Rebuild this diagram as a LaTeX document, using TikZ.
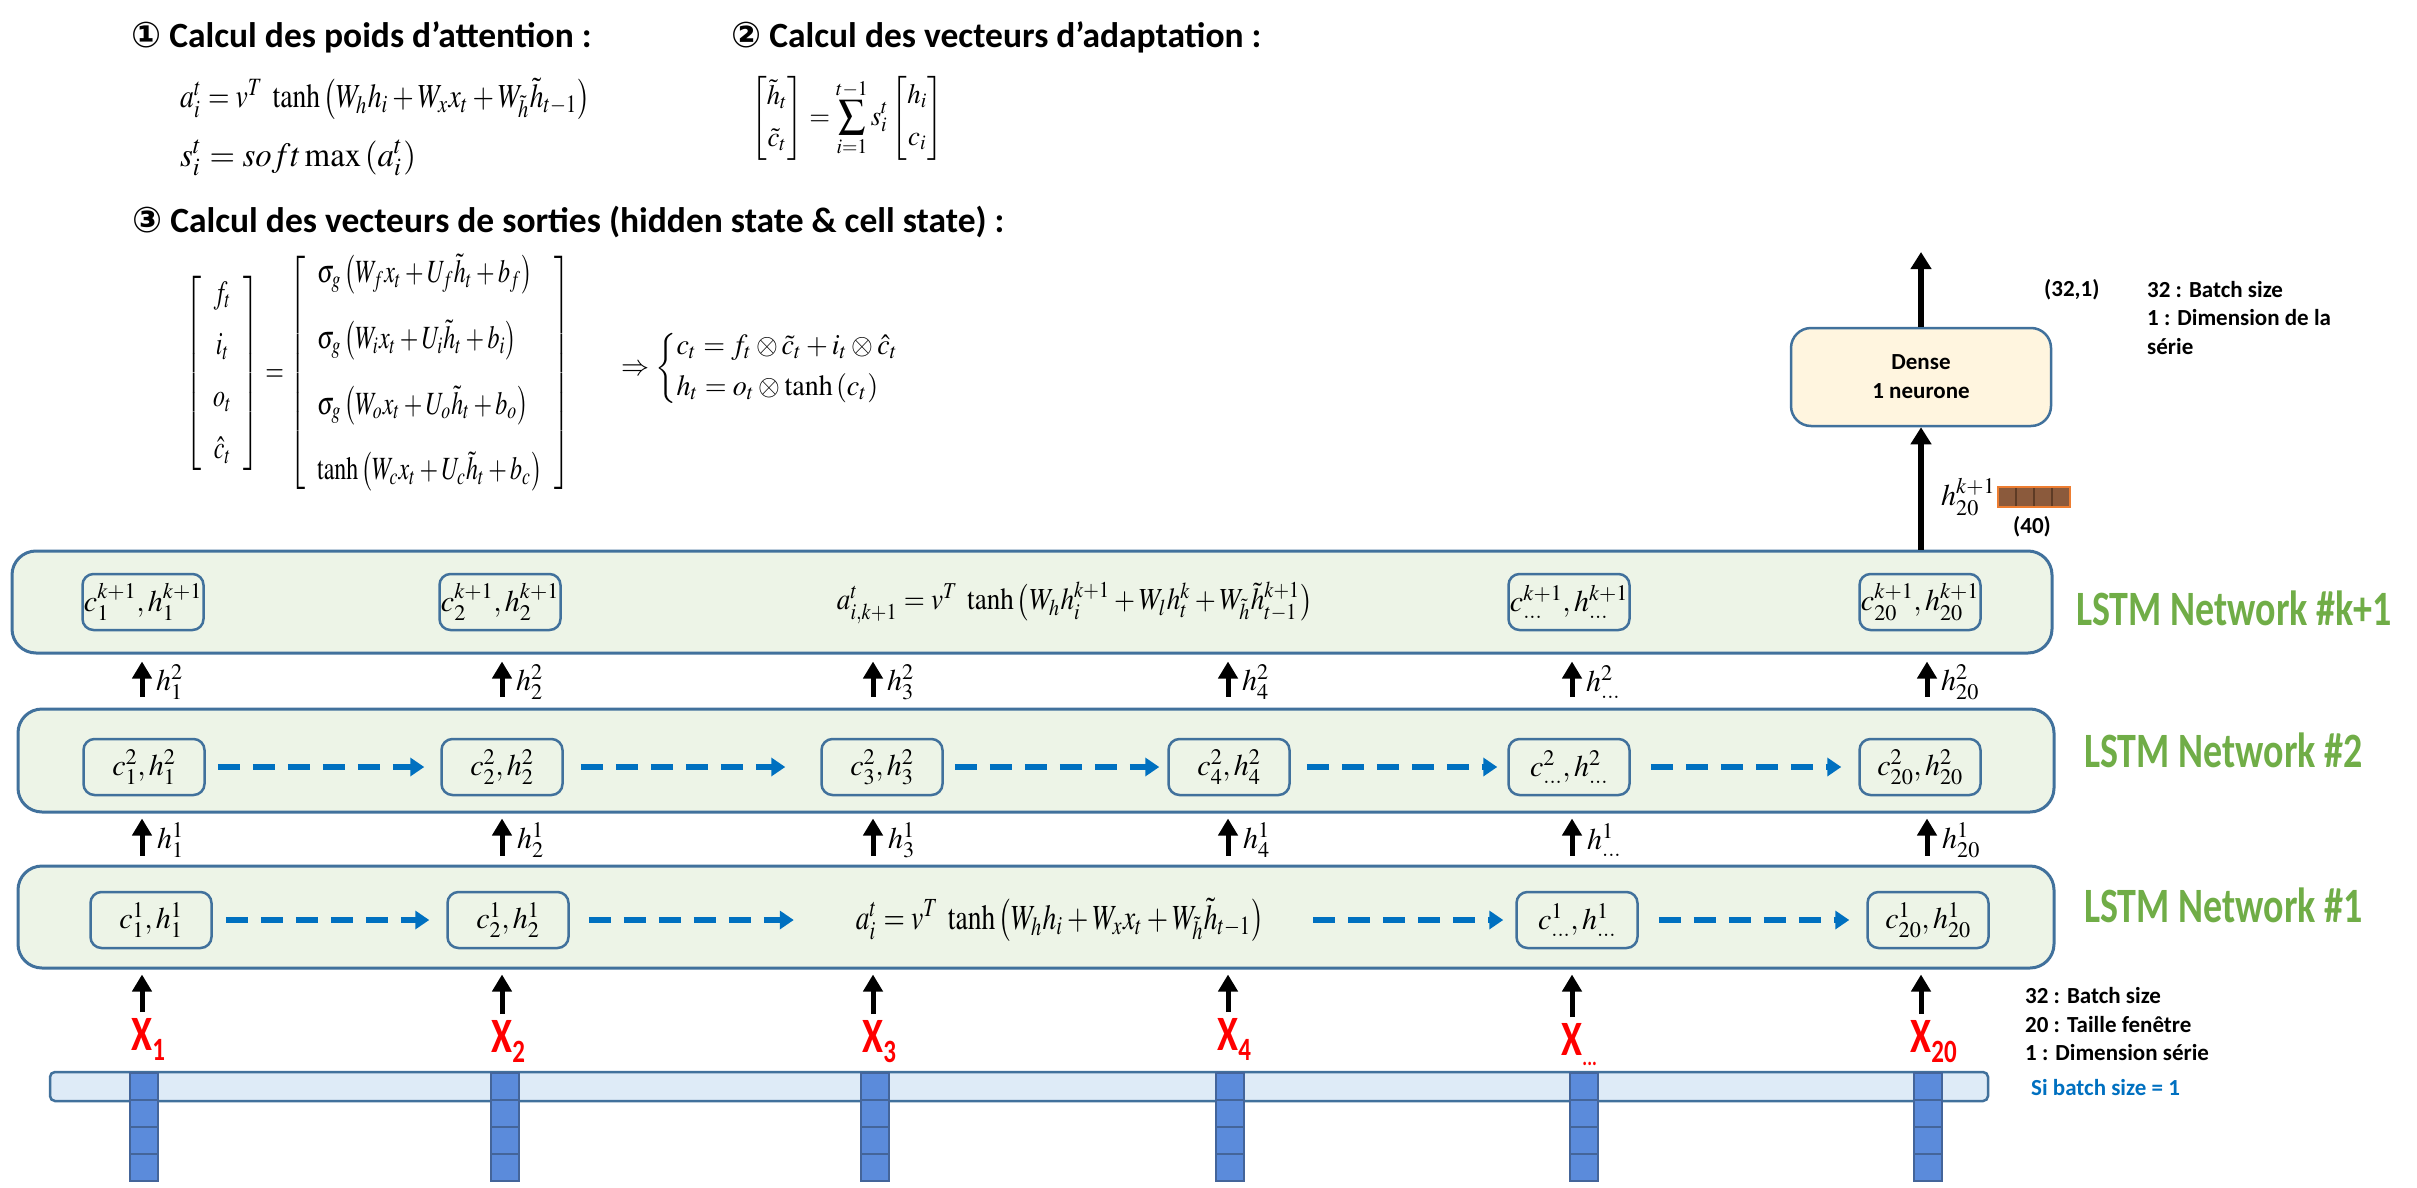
\documentclass[tikz,border=0pt]{standalone}
\usepackage{amsmath}
\usepackage{mathptmx}
\usepackage[no-math]{fontspec}
\setmainfont{Carlito}
\newfontfamily\djv{DejaVu Sans}
\usetikzlibrary{arrows.meta}
\definecolor{bord}{HTML}{41719C}
\definecolor{lgreen}{HTML}{EDF4E7}
\definecolor{dblue}{HTML}{0070C0}
\definecolor{lstmg}{HTML}{70AD47}
\definecolor{xred}{HTML}{FF0000}
\definecolor{barfill}{HTML}{DEEBF7}
\definecolor{colfill}{HTML}{5B8BDB}
\definecolor{coledge}{HTML}{44659A}
\definecolor{densefill}{HTML}{FFF5DF}
\definecolor{brownf}{HTML}{8B5A3C}
\definecolor{browne}{HTML}{ED7D31}
\definecolor{browndiv}{HTML}{5E3B25}
\newcommand\mf{\fontsize{30}{36}\selectfont}
\newcommand\tf{\fontsize{35.5}{42}\selectfont\bfseries}
\newcommand\smallbf{\fontsize{23}{28.5}\selectfont\bfseries}
\newcommand\lstmf{\fontsize{38}{44}\selectfont\bfseries}
\newcommand\xf{\fontsize{38}{44}\selectfont\bfseries}
\newcommand\xs[1]{\rlap{\raisebox{-8pt}{\fontsize{25}{25}\selectfont #1}}}
\newcommand\tallx[1]{\scalebox{1}[1.3]{#1}}
\begin{document}
\begin{tikzpicture}[x=1pt,y=-1pt,
  lstm/.style={draw=bord, line width=3pt, fill=lgreen, rounded corners=24pt, inner sep=0pt},
  cellbox/.style={draw=bord, line width=2.5pt, rounded corners=11pt, minimum width=121pt, minimum height=56pt, inner sep=0pt, font=\mf},
  uparr/.style={-{Triangle[length=17pt,width=19pt]}, line width=5pt},
  bigarr/.style={-{Triangle[length=17pt,width=20pt]}, line width=6.5pt},
  dasharr/.style={-{Triangle[length=14pt,width=18pt]}, line width=5.5pt, draw=dblue, dash pattern=on 22pt off 13pt},
  hlab/.style={anchor=west, inner sep=0pt, font=\mf},
  xlab/.style={anchor=north, inner sep=0pt, font=\xf, text=xred},
  lstmlab/.style={anchor=west, inner sep=0pt, font=\lstmf, text=lstmg},
  title/.style={anchor=west, inner sep=0pt, font=\tf},
  eqn/.style={anchor=west, inner sep=0pt},
  note/.style={anchor=west, inner sep=0pt, font=\smallbf, align=left},
  colst/.style={fill=colfill, draw=coledge, line width=1.5pt},
]
\useasboundingbox (0,0) rectangle (2417,1188);

% ---- top equations ----
\node[title] (t1) at (131,37) {{\djv ①} Calcul des poids d’attention :};
\node[eqn] (e1) at (180,99) {\resizebox*{410pt}{41pt}{$a_i^t = v^T\ \tanh\left(W_h h_i + W_x x_t + W_{\tilde h}\tilde h_{t-1}\right)$}};
\node[eqn] (e1s) at (180,158) {\resizebox*{236pt}{36pt}{$s_i^t = soft\max\left(a_i^t\right)$}};
\node[title] (t2) at (731,37) {{\djv ②} Calcul des vecteurs d’adaptation :};
\node[eqn] (e2) at (751,118) {\resizebox*{192pt}{84pt}{$\displaystyle\begin{bmatrix}\tilde h_t\\[3pt] \tilde c_t\end{bmatrix} = \sum_{i=1}^{t-1} s_i^t\begin{bmatrix}h_i\\[3pt] c_i\end{bmatrix}$}};
\node[title] (t3) at (132,222) {{\djv ③} Calcul des vecteurs de sorties (hidden state \& cell state) :};
\node[eqn] (e3) at (185,373) {\resizebox*{385pt}{237pt}{$\left[\begin{array}{c} f_t\\[4pt] i_t\\[4pt] o_t\\[4pt] \hat c_t\end{array}\right] = \left[\begin{array}{l} \sigma_g\left(W_f x_t + U_f\tilde h_t + b_f\right)\\[8pt] \sigma_g\left(W_i x_t + U_i\tilde h_t + b_i\right)\\[8pt] \sigma_g\left(W_o x_t + U_o\tilde h_t + b_o\right)\\[8pt] \tanh\left(W_c x_t + U_c\tilde h_t + b_c\right)\end{array}\right]$}};
\node[eqn] (e4) at (621,368) {\resizebox*{280pt}{76pt}{$\Rightarrow\left\{\begin{array}{@{}l@{}} c_t = f_t\otimes\tilde c_t + i_t\otimes\hat c_t\\[2pt] h_t = o_t\otimes\tanh\left(c_t\right)\end{array}\right.$}};

% ---- LSTM containers ----
\node[lstm, minimum width=2040pt, minimum height=102pt] (L3) at (1032,602) {};
\node[lstm, minimum width=2036pt, minimum height=103pt] (L2) at (1036,760.5) {};
\node[lstm, minimum width=2036pt, minimum height=102pt] (L1) at (1036,917) {};
\node[lstmlab] (n3) at (2076,608) {\tallx{LSTM Network \#k+1}};
\node[lstmlab] (n2) at (2084,750) {\tallx{LSTM Network \#2}};
\node[lstmlab] (n1) at (2084,905) {\tallx{LSTM Network \#1}};

% row k+1
\node[cellbox] (a1) at (143,602) {$c_1^{k+1},h_1^{k+1}$};
\node[cellbox] (a2) at (500,602) {$c_2^{k+1},h_2^{k+1}$};
\node[inner sep=0pt] (af) at (1075,603) {\resizebox*{476pt}{42pt}{$a_{i,k+1}^t = v^T\ \tanh\left(W_h h_i^{k+1} + W_l h_t^k + W_{\tilde h}\tilde h_{t-1}^{k+1}\right)$}};
\node[cellbox] (a5) at (1569,602) {$c_{\ldots}^{k+1},h_{\ldots}^{k+1}$};
\node[cellbox] (a6) at (1920,602) {$c_{20}^{k+1},h_{20}^{k+1}$};

% row 2
\node[cellbox] (b1) at (144,767) {$c_1^2,h_1^2$};
\node[cellbox] (b2) at (502,767) {$c_2^2,h_2^2$};
\node[cellbox] (b3) at (882,767) {$c_3^2,h_3^2$};
\node[cellbox] (b4) at (1229,767) {$c_4^2,h_4^2$};
\node[cellbox] (b5) at (1569,767) {$c_{\ldots}^2,h_{\ldots}^2$};
\node[cellbox] (b6) at (1920,767) {$c_{20}^2,h_{20}^2$};
\draw[dasharr, shorten <=12pt, shorten >=16pt] (b1.east) -- (b2.west);
\draw[dasharr, shorten <=17pt, shorten >=35pt] (b2.east) -- (b3.west);
\draw[dasharr, shorten <=11pt, shorten >=8pt] (b3.east) -- (b4.west);
\draw[dasharr, shorten <=16pt, shorten >=10pt] (b4.east) -- (b5.west);
\draw[dasharr, shorten <=20pt, shorten >=17pt] (b5.east) -- (b6.west);

% row 1
\node[cellbox] (d1) at (151,920) {$c_1^1,h_1^1$};
\node[cellbox] (d2) at (508,920) {$c_2^1,h_2^1$};
\node[inner sep=0pt] (df) at (1060,920) {\resizebox*{408pt}{43pt}{$a_i^t = v^T\ \tanh\left(W_h h_i + W_x x_t + W_{\tilde h}\tilde h_{t-1}\right)$}};
\node[cellbox] (d5) at (1577,920) {$c_{\ldots}^1,h_{\ldots}^1$};
\node[cellbox] (d6) at (1928,920) {$c_{20}^1,h_{20}^1$};
\draw[dasharr, shorten <=13pt, shorten >=17pt] (d1.east) -- (d2.west);
\draw[dasharr, shorten <=19pt, shorten >=62pt] (d2.east) -- (df.west);
\draw[dasharr, shorten <=49pt, shorten >=12pt] (df.east) -- (d5.west);
\draw[dasharr, shorten <=20pt, shorten >=17pt] (d5.east) -- (d6.west);

% columns
\foreach \i/\cx in {1/142,2/502,3/873,4/1228,5/1572,6/1927} {\coordinate (col\i) at (\cx,0);}
\foreach \i in {1,...,6} {
  \draw[uparr, shorten <=11pt, shorten >=7pt] (L2.north -| col\i) -- (L3.south -| col\i);
  \draw[uparr, shorten <=9pt, shorten >=5pt] (L1.north -| col\i) -- (L2.south -| col\i);
}
% h labels
\node[hlab] at (156,682) {$h_1^2$};
\node[hlab] at (516,682) {$h_2^2$};
\node[hlab] at (887,682) {$h_3^2$};
\node[hlab] at (1242,682) {$h_4^2$};
\node[hlab] at (1586,682) {$h_{\ldots}^2$};
\node[hlab] at (1941,682) {$h_{20}^2$};
\node[hlab] at (157,840) {$h_1^1$};
\node[hlab] at (517,840) {$h_2^1$};
\node[hlab] at (888,840) {$h_3^1$};
\node[hlab] at (1243,840) {$h_4^1$};
\node[hlab] at (1587,840) {$h_{\ldots}^1$};
\node[hlab] at (1942,840) {$h_{20}^1$};

% inputs
\node[xlab] (x1) at (142,1018) {\tallx{X\xs{1}}};
\node[xlab] (x2) at (502,1020) {\tallx{X\xs{2}}};
\node[xlab] (x3) at (873,1020) {\tallx{X\xs{3}}};
\node[xlab] (x4) at (1228,1018) {\tallx{X\xs{4}}};
\node[xlab] (x5) at (1572,1023) {\tallx{X\xs{\fontsize{18}{18}\selectfont ...}}};
\node[xlab] (x6) at (1921,1020) {\tallx{X\xs{20}}};
\foreach \i in {1,...,6} {
  \draw[uparr, shorten <=6pt, shorten >=5pt] (x\i.north) -- (L1.south -| x\i.north);
}

% bar & columns
\draw[fill=barfill, draw=bord, line width=2.5pt, rounded corners=5pt] (50,1072) rectangle (1988,1101);
\foreach \cx in {144,505,875,1230,1584,1928} {
  \foreach \k in {0,1,2,3} {
    \draw[colst] ({\cx-14},{1073+27*\k}) rectangle ({\cx+14},{1100+27*\k});
  }
}
\node[note] (n4) at (2025,1024.5) {\fontsize{23}{27.5}\selectfont 32 : Batch size\\20 : Taille fenêtre\\1 : Dimension série};
\node[note, text=dblue] (n5) at (2031,1088) {Si batch size = 1};

% dense
\node[draw=bord, line width=2.5pt, fill=densefill, rounded corners=20pt, minimum width=260pt, minimum height=98pt, align=center, font=\fontsize{23}{29}\selectfont\bfseries] (D) at (1921,377) {Dense\\1 neurone};
\coordinate (out) at (1921,252);
\draw[bigarr] (D.north) -- (out);
\draw[bigarr] (L3.north -| D.south) -- (D.south);
\node[note] (n6) at (2044,290) {(32,1)};
\node[note] (n7) at (2147,318) {32 : Batch size\\1 : Dimension de la\\série};
\node[hlab] (hk) at (1941,497) {$h_{20}^{k+1}$};
\foreach \k in {0,...,3} {
  \draw[fill=brownf, draw=browndiv, line width=1.5pt] ({1998+18*\k},487) rectangle ({2016+18*\k},507);
}
\draw[browne, line width=2pt] (1998,487) rectangle (2070,507);
\node[font=\smallbf, inner sep=0pt] (n8) at (2032,527) {(40)};
\end{tikzpicture}
\end{document}
